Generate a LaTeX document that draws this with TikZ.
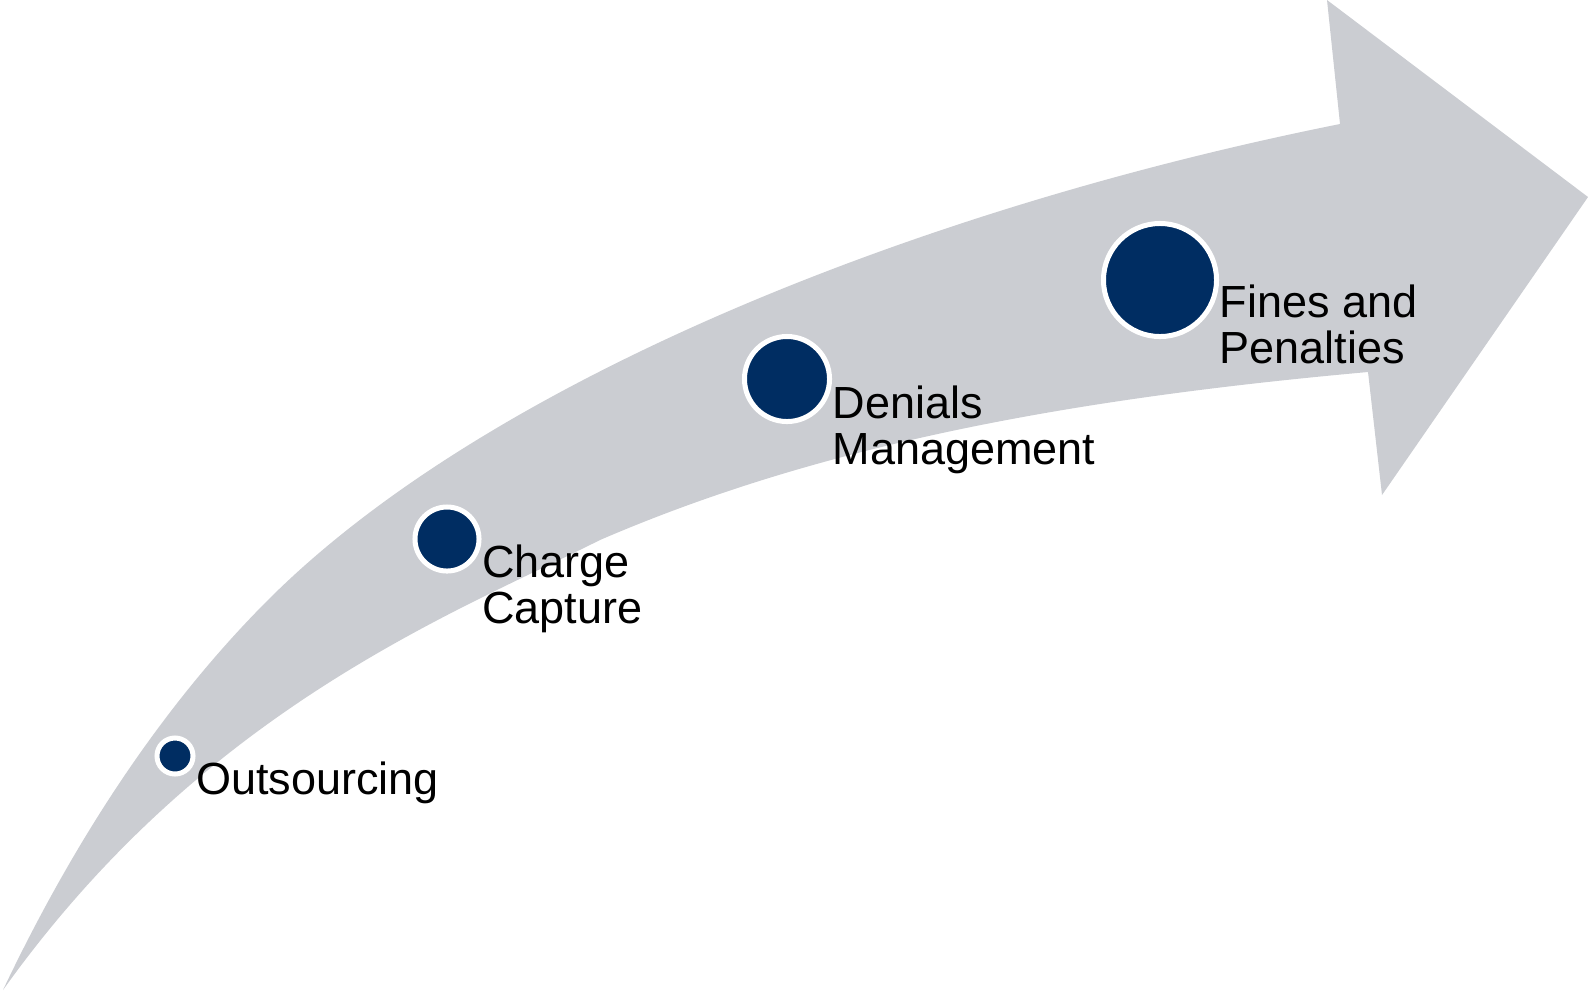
\documentclass[tikz,border=0pt]{standalone}
\usepackage{fontspec}
\setmainfont{Liberation Sans}
\usetikzlibrary{positioning}
\definecolor{bandgray}{RGB}{203,205,210}
\definecolor{stagenavy}{RGB}{0,45,98}

\begin{document}
\begin{tikzpicture}[
	x=0.01cm, y=-0.01cm,
	stage/.style={
		circle, fill=stagenavy, draw=white,
		line width=0.05cm, inner sep=0pt
	},
	caption/.style={
		inner sep=0pt, align=left, text=black,
		font=\fontsize{12.8pt}{13.1pt}\selectfont
	}
	]
	\useasboundingbox (0,0) rectangle (1588,990);
	% curved band with the arrow head
	\fill[bandgray] (3,990) .. controls (70,849) and (157,711) .. (268,600)
		.. controls (488,380) and (920,208) .. (1340,124)
		-- (1327,0) -- (1588,197) -- (1382,495) -- (1368,372)
		.. controls (1068,399) and (820,445) .. (600,540)
		.. controls (450,615) and (203,710) .. (3,990)
		-- cycle;
	\node[stage, minimum size=0.36cm] (out) at (175,756) {};
	\node[stage, minimum size=0.64cm] (chg) at (447,539) {};
	\node[stage, minimum size=0.85cm] (den) at (787,379) {};
	\node[stage, minimum size=1.13cm] (fin) at (1160,280) {};
	\node[caption, below right=0.05cm and 0cm of out.east] (outtext) {Outsourcing};
	\node[caption, below right=0.05cm and 0cm of chg.east] (chgtext) {Charge\\Capture};
	\node[caption, below right=0.06cm and 0cm of den.east] (dentext) {Denials\\Management};
	\node[caption, below right=0.04cm and 0cm of fin.east] (fintext) {Fines and\\Penalties};
\end{tikzpicture}
\end{document}
